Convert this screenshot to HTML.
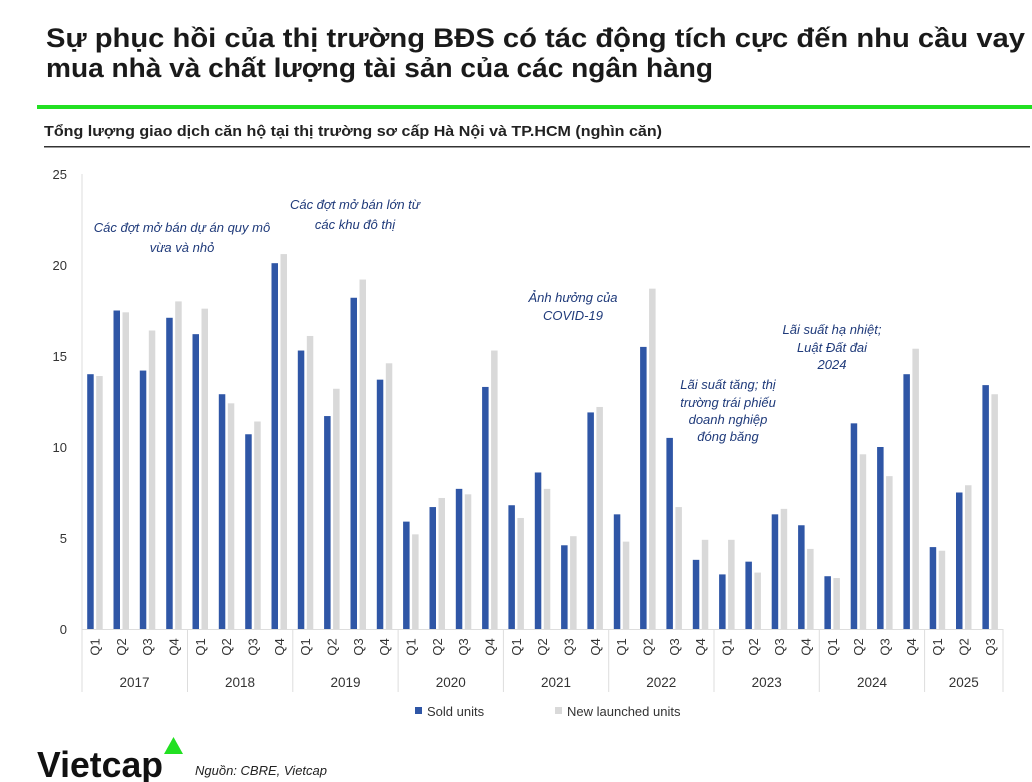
<!DOCTYPE html>
<html><head><meta charset="utf-8"><style>
html,body{margin:0;padding:0;background:#fff;}
svg{display:block;font-family:"Liberation Sans",sans-serif;}
</style></head><body>
<svg width="1032" height="782" viewBox="0 0 1032 782" xmlns="http://www.w3.org/2000/svg">
<text x="46" y="47" font-size="27" font-weight="bold" fill="#1a1a1a" textLength="979" lengthAdjust="spacingAndGlyphs">Sự phục hồi của thị trường BĐS có tác động tích cực đến nhu cầu vay</text>
<text x="46" y="77" font-size="27" font-weight="bold" fill="#1a1a1a" textLength="667" lengthAdjust="spacingAndGlyphs">mua nhà và chất lượng tài sản của các ngân hàng</text>
<rect x="37" y="105" width="995" height="4" fill="#22e022"/>
<text x="44" y="136" font-size="15" font-weight="bold" fill="#222" textLength="618" lengthAdjust="spacingAndGlyphs">Tổng lượng giao dịch căn hộ tại thị trường sơ cấp Hà Nội và TP.HCM (nghìn căn)</text>
<rect x="44" y="146" width="986" height="1.5" fill="#333"/>
<g font-size="13" fill="#333" text-anchor="end">
<text x="67" y="179">25</text><text x="67" y="270">20</text><text x="67" y="361">15</text><text x="67" y="452">10</text><text x="67" y="543">5</text><text x="67" y="634">0</text>
</g>
<line x1="82" y1="174" x2="82" y2="692" stroke="#ddd" stroke-width="1"/>
<line x1="82" y1="629.5" x2="1003" y2="629.5" stroke="#ddd" stroke-width="1"/>
<g stroke="#ddd" stroke-width="1">
<line x1="187.5" y1="629" x2="187.5" y2="692"/><line x1="292.8" y1="629" x2="292.8" y2="692"/><line x1="398.1" y1="629" x2="398.1" y2="692"/><line x1="503.4" y1="629" x2="503.4" y2="692"/><line x1="608.7" y1="629" x2="608.7" y2="692"/><line x1="714" y1="629" x2="714" y2="692"/><line x1="819.3" y1="629" x2="819.3" y2="692"/><line x1="924.6" y1="629" x2="924.6" y2="692"/><line x1="1003" y1="629" x2="1003" y2="692"/>
</g>
<g transform="translate(0,629) scale(1,-18.2)">
<g fill="#2f56a6">
<rect x="87.2" width="6.5" height="14.0"/><rect x="113.5" width="6.5" height="17.5"/><rect x="139.8" width="6.5" height="14.2"/><rect x="166.2" width="6.5" height="17.1"/>
<rect x="192.5" width="6.5" height="16.2"/><rect x="218.8" width="6.5" height="12.9"/><rect x="245.2" width="6.5" height="10.7"/><rect x="271.5" width="6.5" height="20.1"/>
<rect x="297.8" width="6.5" height="15.3"/><rect x="324.1" width="6.5" height="11.7"/><rect x="350.5" width="6.5" height="18.2"/><rect x="376.8" width="6.5" height="13.7"/>
<rect x="403.1" width="6.5" height="5.9"/><rect x="429.5" width="6.5" height="6.7"/><rect x="455.8" width="6.5" height="7.7"/><rect x="482.1" width="6.5" height="13.3"/>
<rect x="508.4" width="6.5" height="6.8"/><rect x="534.8" width="6.5" height="8.6"/><rect x="561.1" width="6.5" height="4.6"/><rect x="587.4" width="6.5" height="11.9"/>
<rect x="613.8" width="6.5" height="6.3"/><rect x="640.1" width="6.5" height="15.5"/><rect x="666.4" width="6.5" height="10.5"/><rect x="692.8" width="6.5" height="3.8"/>
<rect x="719.1" width="6.5" height="3.0"/><rect x="745.4" width="6.5" height="3.7"/><rect x="771.7" width="6.5" height="6.3"/><rect x="798.1" width="6.5" height="5.7"/>
<rect x="824.4" width="6.5" height="2.9"/><rect x="850.7" width="6.5" height="11.3"/><rect x="877.1" width="6.5" height="10.0"/><rect x="903.4" width="6.5" height="14.0"/>
<rect x="929.7" width="6.5" height="4.5"/><rect x="956.0" width="6.5" height="7.5"/><rect x="982.4" width="6.5" height="13.4"/>
</g>
<g fill="#d9d9d9">
<rect x="96.2" width="6.5" height="13.9"/><rect x="122.5" width="6.5" height="17.4"/><rect x="148.8" width="6.5" height="16.4"/><rect x="175.2" width="6.5" height="18.0"/>
<rect x="201.5" width="6.5" height="17.6"/><rect x="227.8" width="6.5" height="12.4"/><rect x="254.2" width="6.5" height="11.4"/><rect x="280.5" width="6.5" height="20.6"/>
<rect x="306.8" width="6.5" height="16.1"/><rect x="333.1" width="6.5" height="13.2"/><rect x="359.5" width="6.5" height="19.2"/><rect x="385.8" width="6.5" height="14.6"/>
<rect x="412.1" width="6.5" height="5.2"/><rect x="438.5" width="6.5" height="7.2"/><rect x="464.8" width="6.5" height="7.4"/><rect x="491.1" width="6.5" height="15.3"/>
<rect x="517.4" width="6.5" height="6.1"/><rect x="543.8" width="6.5" height="7.7"/><rect x="570.1" width="6.5" height="5.1"/><rect x="596.4" width="6.5" height="12.2"/>
<rect x="622.8" width="6.5" height="4.8"/><rect x="649.1" width="6.5" height="18.7"/><rect x="675.4" width="6.5" height="6.7"/><rect x="701.8" width="6.5" height="4.9"/>
<rect x="728.1" width="6.5" height="4.9"/><rect x="754.4" width="6.5" height="3.1"/><rect x="780.7" width="6.5" height="6.6"/><rect x="807.1" width="6.5" height="4.4"/>
<rect x="833.4" width="6.5" height="2.8"/><rect x="859.7" width="6.5" height="9.6"/><rect x="886.1" width="6.5" height="8.4"/><rect x="912.4" width="6.5" height="15.4"/>
<rect x="938.7" width="6.5" height="4.3"/><rect x="965.0" width="6.5" height="7.9"/><rect x="991.4" width="6.5" height="12.9"/>
</g>
</g>
<g font-size="13" fill="#333" text-anchor="middle">
<text transform="translate(99.6,647) rotate(-90)">Q1</text><text transform="translate(125.9,647) rotate(-90)">Q2</text><text transform="translate(152.2,647) rotate(-90)">Q3</text><text transform="translate(178.6,647) rotate(-90)">Q4</text>
<text transform="translate(204.9,647) rotate(-90)">Q1</text><text transform="translate(231.2,647) rotate(-90)">Q2</text><text transform="translate(257.6,647) rotate(-90)">Q3</text><text transform="translate(283.9,647) rotate(-90)">Q4</text>
<text transform="translate(310.2,647) rotate(-90)">Q1</text><text transform="translate(336.5,647) rotate(-90)">Q2</text><text transform="translate(362.9,647) rotate(-90)">Q3</text><text transform="translate(389.2,647) rotate(-90)">Q4</text>
<text transform="translate(415.5,647) rotate(-90)">Q1</text><text transform="translate(441.9,647) rotate(-90)">Q2</text><text transform="translate(468.2,647) rotate(-90)">Q3</text><text transform="translate(494.5,647) rotate(-90)">Q4</text>
<text transform="translate(520.8,647) rotate(-90)">Q1</text><text transform="translate(547.2,647) rotate(-90)">Q2</text><text transform="translate(573.5,647) rotate(-90)">Q3</text><text transform="translate(599.8,647) rotate(-90)">Q4</text>
<text transform="translate(626.2,647) rotate(-90)">Q1</text><text transform="translate(652.5,647) rotate(-90)">Q2</text><text transform="translate(678.8,647) rotate(-90)">Q3</text><text transform="translate(705.2,647) rotate(-90)">Q4</text>
<text transform="translate(731.5,647) rotate(-90)">Q1</text><text transform="translate(757.8,647) rotate(-90)">Q2</text><text transform="translate(784.1,647) rotate(-90)">Q3</text><text transform="translate(810.5,647) rotate(-90)">Q4</text>
<text transform="translate(836.8,647) rotate(-90)">Q1</text><text transform="translate(863.1,647) rotate(-90)">Q2</text><text transform="translate(889.5,647) rotate(-90)">Q3</text><text transform="translate(915.8,647) rotate(-90)">Q4</text>
<text transform="translate(942.1,647) rotate(-90)">Q1</text><text transform="translate(968.4,647) rotate(-90)">Q2</text><text transform="translate(994.8,647) rotate(-90)">Q3</text>
</g>
<g font-size="13.5" fill="#333" text-anchor="middle">
<text x="134.5" y="687">2017</text><text x="240" y="687">2018</text><text x="345.5" y="687">2019</text><text x="450.8" y="687">2020</text><text x="556" y="687">2021</text><text x="661.3" y="687">2022</text><text x="766.7" y="687">2023</text><text x="872" y="687">2024</text><text x="963.8" y="687">2025</text>
</g>
<rect x="415" y="707" width="7" height="7" fill="#2f56a6"/>
<text x="427" y="716" font-size="13" fill="#333">Sold units</text>
<rect x="555" y="707" width="7" height="7" fill="#d9d9d9"/>
<text x="567" y="716" font-size="13" fill="#333">New launched units</text>
<g font-size="13" font-style="italic" fill="#1f3a7a" text-anchor="middle">
<text x="182" y="232">Các đợt mở bán dự án quy mô</text><text x="182" y="252">vừa và nhỏ</text>
<text x="355" y="209">Các đợt mở bán lớn từ</text><text x="355" y="229">các khu đô thị</text>
<text x="573" y="302">Ảnh hưởng của</text><text x="573" y="320">COVID-19</text>
<text x="728" y="389">Lãi suất tăng; thị</text><text x="728" y="407">trường trái phiếu</text><text x="728" y="424">doanh nghiệp</text><text x="728" y="441">đóng băng</text>
<text x="832" y="334">Lãi suất hạ nhiệt;</text><text x="832" y="352">Luật Đất đai</text><text x="832" y="369">2024</text>
</g>
<text x="37" y="777" font-size="36" font-weight="bold" fill="#111" textLength="126" lengthAdjust="spacingAndGlyphs">Vietcap</text>
<polygon points="173.5,737 164,754 183,754" fill="#22e022"/>
<text x="195" y="775" font-size="13" font-style="italic" fill="#222">Nguồn: CBRE, Vietcap</text>
</svg>
</body></html>
